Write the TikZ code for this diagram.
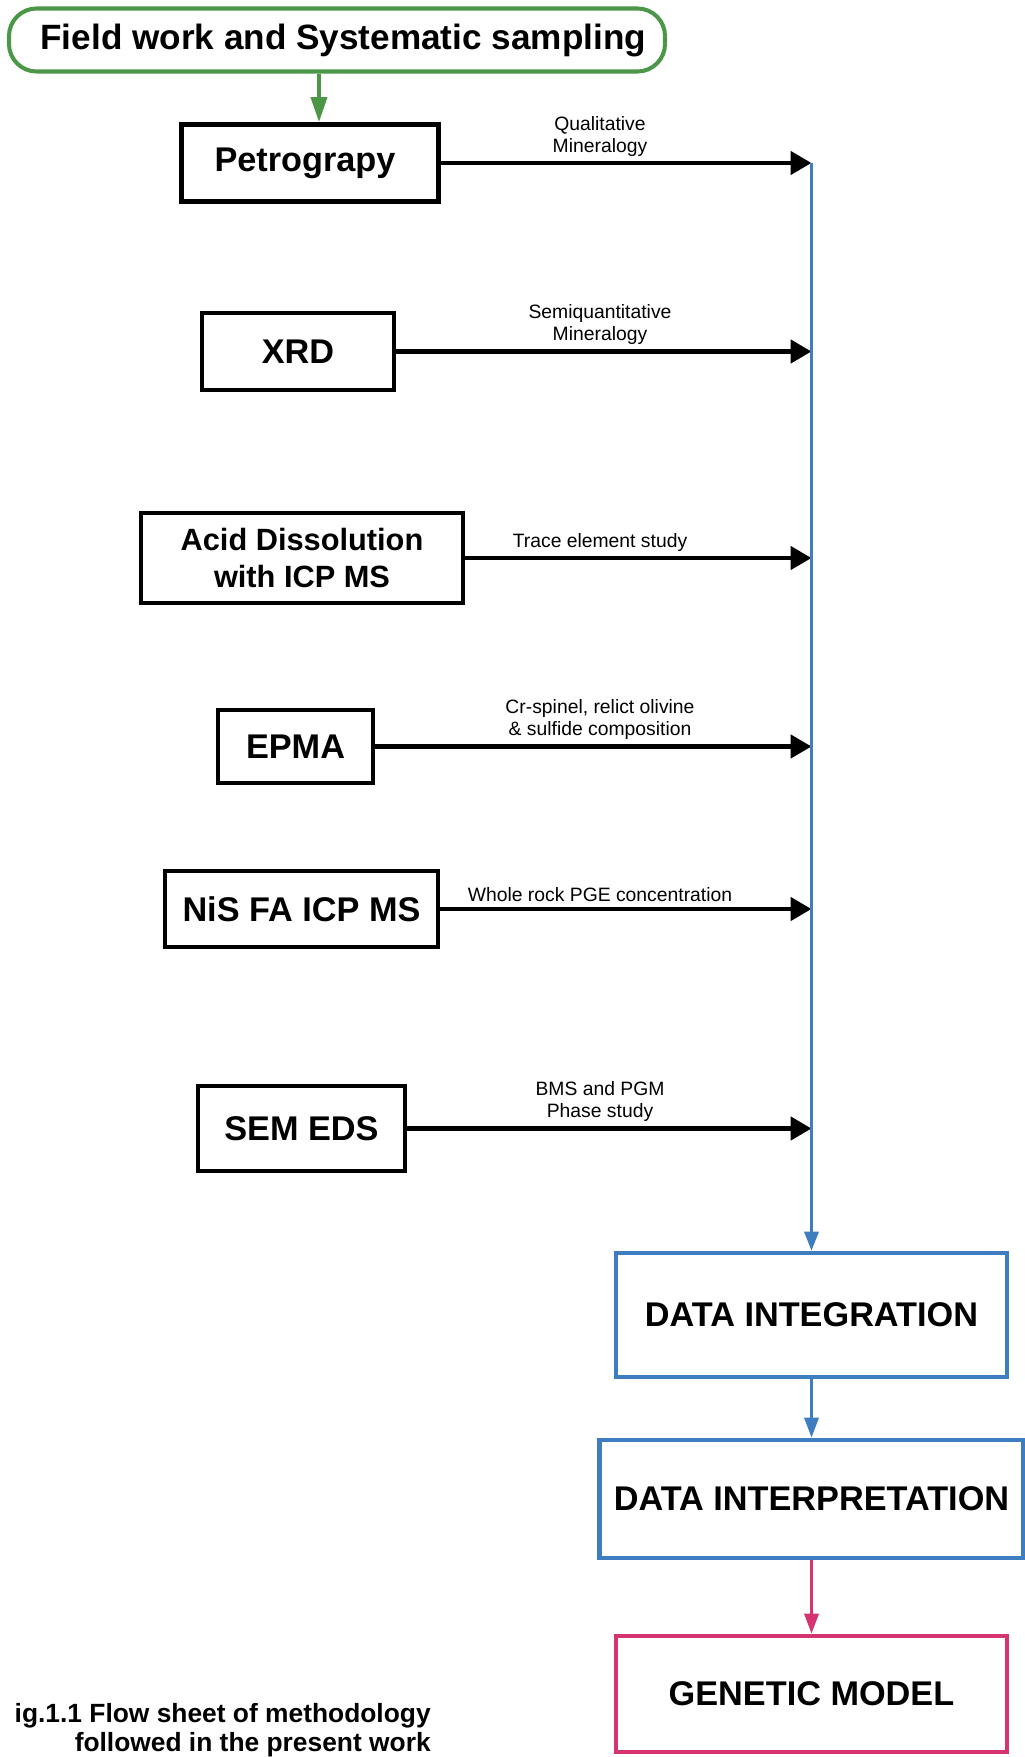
\documentclass[tikz,border=0pt]{standalone}
\usepackage{fontspec}
\setmainfont{Liberation Sans}
\usepackage{tikz}
\usetikzlibrary{arrows.meta}
\definecolor{fieldgreen}{RGB}{76,150,72}
\definecolor{busblue}{RGB}{62,126,192}
\definecolor{modelpink}{RGB}{214,52,112}

\begin{document}
\begin{tikzpicture}[node distance=2cm, auto,
		>={Triangle[length=4.2mm,width=4.6mm]},
		method/.style={draw, line width=2.7pt, inner sep=0pt, align=center, font=\fontsize{19.5}{23}\selectfont\bfseries},
		result/.style={draw=busblue, line width=2.6pt, inner sep=0pt, minimum height=2.4cm, font=\fontsize{19.5}{23}\selectfont\bfseries},
		lbl/.style={anchor=south, yshift=1.3mm, inner sep=0pt, align=center, font=\fontsize{11}{12.5}\selectfont},
		link/.style={->, line width=2.7pt}]
				\useasboundingbox (0,0) rectangle (20.48,-35.14);
				\node (field) [draw=fieldgreen, line width=2.3pt, rounded corners=0.55cm, minimum width=13.12cm, minimum height=1.26cm, font=\fontsize{20}{24}\selectfont\bfseries] at (6.74,-0.80) {\hspace*{2.5mm}Field work and Systematic sampling};
				\node (petro) [method, below of=field, node distance=2.46cm, xshift=-0.54cm, minimum width=5.14cm, minimum height=1.54cm] {Petrograpy\hspace*{2mm}};
				\node (xrd) [method, below of=petro, node distance=3.77cm, xshift=-0.24cm, minimum width=3.84cm, minimum height=1.54cm] {XRD};
				\node (acid) [method, below of=xrd, node distance=4.13cm, xshift=0.08cm, minimum width=6.44cm, minimum height=1.80cm, font=\fontsize{17.5}{21.5}\selectfont\bfseries] {Acid Dissolution\\with ICP MS};
				\node (epma) [method, below of=acid, node distance=3.77cm, xshift=-0.13cm, minimum width=3.10cm, minimum height=1.46cm] {EPMA};
				\node (nis) [method, below of=epma, node distance=3.25cm, xshift=0.12cm, minimum width=5.46cm, minimum height=1.52cm] {NiS FA ICP MS};
				\node (sem) [method, below of=nis, node distance=4.39cm, minimum width=4.14cm, minimum height=1.70cm] {SEM EDS};
				\node (integ) [result, minimum width=7.82cm, minimum height=2.48cm] at (16.23,-26.30) {DATA INTEGRATION};
				\node (interp) [result, below of=integ, node distance=3.68cm, minimum width=8.48cm, minimum height=2.36cm] {DATA INTERPRETATION};
				\node (model) [result, draw=modelpink, below of=interp, node distance=3.90cm, minimum width=7.82cm, minimum height=2.32cm] {GENETIC MODEL};
				\node (caption) [anchor=east, align=right, inner sep=0pt, font=\fontsize{15}{16.5}\selectfont\bfseries] at (8.62,-34.60) {ig.1.1 Flow sheet of methodology\\followed in the present work};
				\coordinate (bustop) at (integ.north |- petro);
				\coordinate (labx) at (12,0);
				\coordinate (drop) at ([xshift=1.8mm]petro.north);
				\node (lpetro) [lbl] at (petro -| labx) {Qualitative\\Mineralogy};
				\node (lxrd) [lbl] at (xrd -| labx) {Semiquantitative\\Mineralogy};
				\node (lacid) [lbl] at (acid -| labx) {Trace element study};
				\node (lepma) [lbl] at (epma -| labx) {Cr-spinel, relict olivine\\\& sulfide composition};
				\node (lnis) [lbl] at (nis -| labx) {Whole rock PGE concentration};
				\node (lsem) [lbl] at (sem -| labx) {BMS and PGM\\Phase study};
				\draw[fieldgreen, line width=2.2pt, -{Triangle[length=5mm,width=3.2mm]}] (field.south -| drop) -- (drop);
				\draw[link] (petro) -- (petro -| bustop);
				\draw[link] (xrd) -- (xrd -| bustop);
				\draw[link] (acid) -- (acid -| bustop);
				\draw[link] (epma) -- (epma -| bustop);
				\draw[link] (nis) -- (nis -| bustop);
				\draw[link] (sem) -- (sem -| bustop);
				\draw[busblue, line width=1.8pt, -{Triangle[length=3.8mm,width=2.8mm]}] (bustop) -- (integ);
				\draw[busblue, line width=1.8pt, -{Triangle[length=4mm,width=2.8mm]}] (integ) -- (interp);
				\draw[modelpink, line width=1.8pt, -{Triangle[length=4mm,width=2.8mm]}] (interp) -- (model);
			\end{tikzpicture}
\end{document}
